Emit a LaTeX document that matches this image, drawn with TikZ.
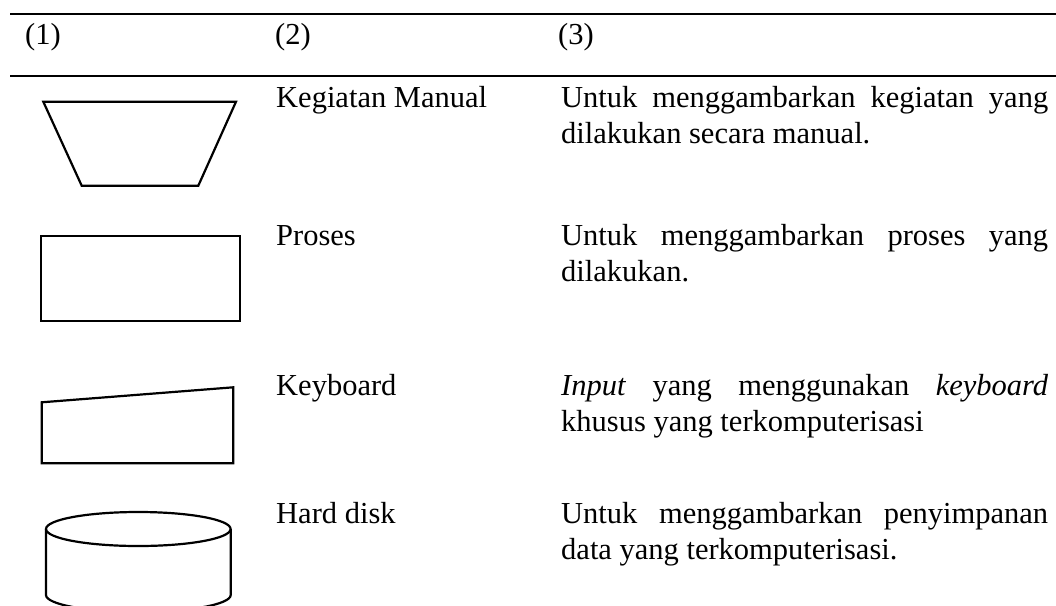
\documentclass[tikz,border=0pt]{standalone}
\usepackage{fontspec}
\setmainfont{Liberation Serif}
\hyphenpenalty=10000
\exhyphenpenalty=10000
\tolerance=9999
\hbadness=10000
\begin{document}
\begin{tikzpicture}[x=1pt,y=-1pt,
  rule/.style={line width=1.8pt},
  symb/.style={line width=2.2pt, line join=miter},
  lbl/.style={anchor=base west, inner sep=0pt, font=\fontsize{30.5}{36.5}\selectfont},
]
\useasboundingbox (0,0) rectangle (1056,605);
% table rules
\draw[rule] (10,14) -- (1056,14);
\draw[rule] (10,76) -- (1056,76);
% header
\node[lbl] (h1) at (25,44.5) {(1)};
\node[lbl] (h2) at (275,44.5) {(2)};
\node[lbl] (h3) at (558,44.5) {(3)};
% symbols
\draw[symb] (43.3,101.7) -- (236,101.7) -- (198.3,185.7) -- (81.7,185.7) -- cycle;
\draw[symb] (40.7,235.7) rectangle (240,321);
\draw[symb] (41.7,402.3) -- (233.3,387.3) -- (233.3,463.3) -- (41.7,463.3) -- cycle;
\draw[symb] (138.3,529) ellipse (92.3 and 17);
\draw[symb] (46,529) -- (46,595)
  .. controls (46,604.4) and (87.3,612) .. (138.3,612)
  .. controls (189.3,612) and (230.7,604.4) .. (230.7,595) -- (230.7,529);
% names
\node[lbl] (n1) at (276,107) {Kegiatan Manual};
\node[lbl] (n2) at (276,245) {Proses};
\node[lbl] (n3) at (276,395) {Keyboard};
\node[lbl] (n4) at (276,523) {Hard disk};
% descriptions
\node[lbl] (d1) at (561,107) {\parbox[t]{487pt}{Untuk menggambarkan kegiatan yang dilakukan secara manual.}};
\node[lbl] (d2) at (561,245) {\parbox[t]{487pt}{Untuk menggambarkan proses yang dilakukan.}};
\node[lbl] (d3) at (561,395) {\parbox[t]{487pt}{\textit{Input} yang menggunakan \textit{keyboard} khusus yang terkomputerisasi}};
\node[lbl] (d4) at (561,523) {\parbox[t]{487pt}{Untuk menggambarkan penyimpanan data yang terkomputerisasi.}};
\end{tikzpicture}
\end{document}
